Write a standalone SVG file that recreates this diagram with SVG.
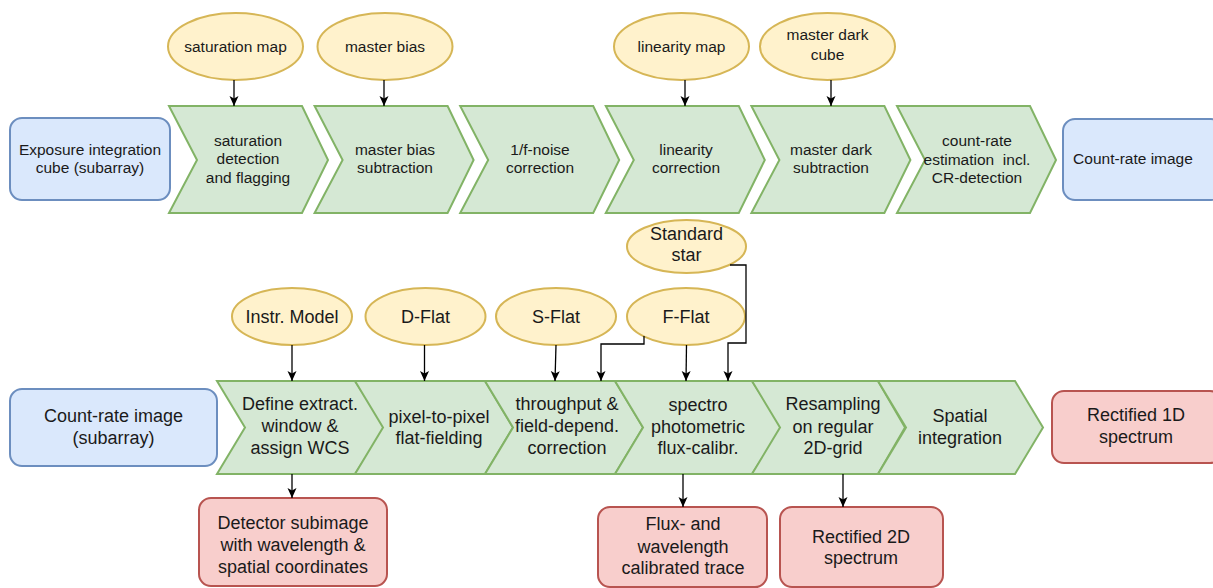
<svg xmlns="http://www.w3.org/2000/svg" width="1213" height="588" viewBox="0 0 1213 588">
<defs>
<marker id="arr" markerUnits="userSpaceOnUse" markerWidth="10" markerHeight="10" viewBox="0 0 10 10" refX="10" refY="5" orient="auto"><path d="M0,0.5 L10,5 L0,9.5 L2.5,5z" fill="#000"/></marker>
<style>
.blue{fill:#dae8fc;stroke:#6c8ebf;stroke-width:2}
.green{fill:#d5e8d4;stroke:#82b366;stroke-width:2}
.yel{fill:#fff2cc;stroke:#d6b656;stroke-width:2}
.red{fill:#f8cecc;stroke:#b85450;stroke-width:2}
text{font-family:"Liberation Sans",Arial,sans-serif;fill:#1a1a1a;text-anchor:middle}
.t{font-size:15.5px}
.b{font-size:18px}
.c{fill:none;stroke:#000;stroke-width:1.3;marker-end:url(#arr)}
</style>
</defs>
<rect width="1213" height="588" fill="#fff"/>

<!-- top row -->
<g id="exposure"><rect class="blue" x="10" y="118" width="160" height="82" rx="12"/><text class="t" x="90" y="155.4">Exposure integration</text><text class="t" x="90" y="173.4">cube (subarray)</text></g>
<g id="sat_det"><path class="green" d="M169,106 H302 L328,160 L302,213 H169 L197,160 Z"/><text class="t" x="248" y="146.4">saturation</text><text class="t" x="248" y="164.4">detection</text><text class="t" x="248" y="183.4">and flagging</text></g>
<g id="bias_sub"><path class="green" d="M314.6,106 H447.6 L473.6,160 L447.6,213 H314.6 L342.6,160 Z"/><text class="t" x="395" y="155.4">master bias</text><text class="t" x="395" y="173.4">subtraction</text></g>
<g id="noise"><path class="green" d="M460.2,106 H593.2 L619.2,160 L593.2,213 H460.2 L488.2,160 Z"/><text class="t" x="540" y="155.4">1/f-noise</text><text class="t" x="540" y="173.4">correction</text></g>
<g id="lin_corr"><path class="green" d="M605.8,106 H738.8 L764.8,160 L738.8,213 H605.8 L633.8,160 Z"/><text class="t" x="686" y="155.4">linearity</text><text class="t" x="686" y="173.4">correction</text></g>
<g id="dark_sub"><path class="green" d="M751.4,106 H884.4 L910.4,160 L884.4,213 H751.4 L779.4,160 Z"/><text class="t" x="831" y="155.4">master dark</text><text class="t" x="831" y="173.4">subtraction</text></g>
<g id="countrate_est"><path class="green" d="M897,106 H1030 L1056,160 L1030,213 H897 L925,160 Z"/><text class="t" x="977" y="146.4">count-rate</text><text class="t" x="977" y="165.4" xml:space="preserve">estimation  incl.</text><text class="t" x="977" y="183.4">CR-detection</text></g>
<g id="countrate_img"><rect class="blue" x="1063" y="119" width="160" height="81" rx="12"/><text class="t" x="1133" y="164.4">Count-rate image</text></g>

<g id="sat_map"><ellipse class="yel" cx="235.5" cy="46.5" rx="67.5" ry="33.5"/><text class="t" x="235.5" y="51.9">saturation map</text></g>
<g id="master_bias"><ellipse class="yel" cx="385" cy="46.5" rx="67.5" ry="33.5"/><text class="t" x="385" y="51.9">master bias</text></g>
<g id="lin_map"><ellipse class="yel" cx="681.5" cy="46.5" rx="67.5" ry="33.5"/><text class="t" x="681.5" y="51.9">linearity map</text></g>
<g id="master_dark"><ellipse class="yel" cx="827.5" cy="46.5" rx="67.5" ry="33.5"/><text class="t" x="827.5" y="40.4">master dark</text><text class="t" x="827.5" y="60.4">cube</text></g>

<!-- bottom row -->
<g id="countrate_sub"><rect class="blue" x="10" y="389" width="207" height="77" rx="12"/><text class="b" x="113.5" y="422.3">Count-rate image</text><text class="b" x="113.5" y="444.3">(subarray)</text></g>
<g id="define"><path class="green" d="M217,381 H355 L385,427.5 L355,474 H217 L245,427.5 Z"/><text class="b" x="300" y="410.3">Define extract.</text><text class="b" x="300" y="432.3">window &amp;</text><text class="b" x="300" y="454.3">assign WCS</text></g>
<g id="p2p"><path class="green" d="M355,381 H485 L513,427.5 L485,474 H355 L383,427.5 Z"/><text class="b" x="439" y="423.3">pixel-to-pixel</text><text class="b" x="439" y="444.3">flat-fielding</text></g>
<g id="throughput"><path class="green" d="M485,381 H615 L643,427.5 L615,474 H485 L513,427.5 Z"/><text class="b" x="567" y="410.3">throughput &amp;</text><text class="b" x="567" y="432.3">field-depend.</text><text class="b" x="567" y="454.3">correction</text></g>
<g id="spectro"><path class="green" d="M615,381 H752 L782,427.5 L752,474 H615 L643,427.5 Z"/><text class="b" x="698" y="411.3">spectro</text><text class="b" x="698" y="433.3">photometric</text><text class="b" x="698" y="454.3">flux-calibr.</text></g>
<g id="resample"><path class="green" d="M752,381 H878 L905,427.5 L878,474 H752 L780,427.5 Z"/><text class="b" x="833" y="410.3">Resampling</text><text class="b" x="833" y="433.3">on regular</text><text class="b" x="833" y="454.3">2D-grid</text></g>
<g id="spatial"><path class="green" d="M878,381 H1015 L1043,427.5 L1015,474 H878 L906,427.5 Z"/><text class="b" x="960" y="422.3">Spatial</text><text class="b" x="960" y="444.3">integration</text></g>
<g id="rect1d"><rect class="red" x="1052" y="391" width="170" height="72" rx="12"/><text class="b" x="1136" y="421.3">Rectified 1D</text><text class="b" x="1136" y="443.3">spectrum</text></g>

<g id="instr"><ellipse class="yel" cx="292" cy="316.5" rx="60" ry="28.5"/><text class="b" x="292" y="322.8">Instr. Model</text></g>
<g id="dflat"><ellipse class="yel" cx="425.5" cy="316.5" rx="60" ry="28.5"/><text class="b" x="425.5" y="322.8">D-Flat</text></g>
<g id="sflat"><ellipse class="yel" cx="556" cy="316.5" rx="60" ry="28.5"/><text class="b" x="556" y="322.8">S-Flat</text></g>
<g id="fflat"><ellipse class="yel" cx="686" cy="316.5" rx="59" ry="28.5"/><text class="b" x="686" y="322.8">F-Flat</text></g>
<g id="stdstar"><ellipse class="yel" cx="686.5" cy="246.5" rx="59.5" ry="26.5"/><text class="b" x="686.5" y="240.3">Standard</text><text class="b" x="686.5" y="261.3">star</text></g>

<g id="detector"><rect class="red" x="199" y="498" width="188" height="88" rx="12"/><text class="b" x="293" y="529.3">Detector subimage</text><text class="b" x="293" y="551.3">with wavelength &amp;</text><text class="b" x="293" y="573.3">spatial coordinates</text></g>
<g id="flux"><rect class="red" x="598" y="507" width="169" height="80" rx="12"/><text class="b" x="683" y="530.3">Flux- and</text><text class="b" x="683" y="553.3">wavelength</text><text class="b" x="683" y="574.3">calibrated trace</text></g>
<g id="rect2d"><rect class="red" x="780" y="507" width="163" height="80" rx="12"/><text class="b" x="861" y="543.3">Rectified 2D</text><text class="b" x="861" y="564.3">spectrum</text></g>

<g id="connectors">
<path class="c" d="M234,80 V106"/>
<path class="c" d="M384,80 V106"/>
<path class="c" d="M685,80 V106"/>
<path class="c" d="M831,80 V106"/>
<path class="c" d="M292,345 V381"/>
<path class="c" d="M424.5,345 V381"/>
<path class="c" d="M556,345 L555,381"/>
<path class="c" d="M644,336 V344 H601 V381"/>
<path class="c" d="M686.5,345 L686,381"/>
<path class="c" d="M730,265 H746 V343 H728 V381"/>
<path class="c" d="M292,474 V498"/>
<path class="c" d="M683,474 V507"/>
<path class="c" d="M843,474 V507"/>
</g>
</svg>
